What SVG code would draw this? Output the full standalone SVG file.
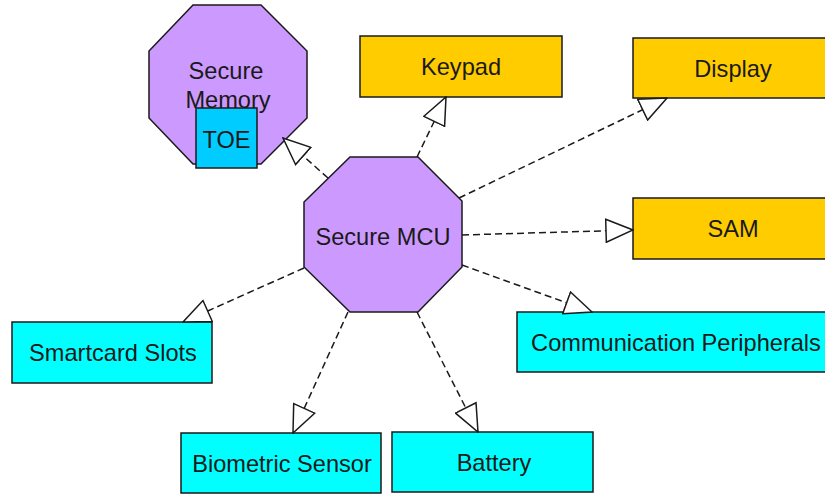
<svg xmlns="http://www.w3.org/2000/svg" width="825" height="496" viewBox="0 0 825 496">
<style>
  .oct { fill: #CC99FF; stroke: #1a1a1a; stroke-width: 1.5; }
  .yel { fill: #FFCC00; stroke: #1a1a1a; stroke-width: 1.5; }
  .cyan { fill: #00FFFF; stroke: #1a1a1a; stroke-width: 1.5; }
  .toe { fill: #00CCFF; stroke: #1a1a1a; stroke-width: 1.5; }
  text { font-family: "Liberation Sans", Arial, sans-serif; font-size: 23.6px; fill: #1a1a1a; text-anchor: middle; }
  .conn { fill: none; stroke: #1a1a1a; stroke-width: 1.5; stroke-dasharray: 7 4; marker-end: url(#tri); }
</style>
<defs>
  <marker id="tri" viewBox="0 0 29 25" refX="28" refY="12.5" markerWidth="29" markerHeight="25" markerUnits="userSpaceOnUse" orient="auto">
    <path d="M1,1 L28,12.5 L1,24 Z" fill="#ffffff" stroke="#1a1a1a" stroke-width="1.5"/>
  </marker>
</defs>
<rect width="825" height="496" fill="#ffffff"/>

<g id="secure-memory">
  <polygon class="oct" points="193,5 261,5 307,51 307,118 261,164 193,164 149,118 149,51"/>
  <text x="226" y="79">Secure</text>
  <text x="228" y="108">Memory</text>
</g>
<g id="toe">
  <rect class="toe" x="196" y="108" width="61" height="60"/>
  <text x="226.5" y="148">TOE</text>
</g>
<g id="secure-mcu">
  <polygon class="oct" points="350,157 418,157 462,201 462,267 418,312 350,312 304,267 304,202"/>
  <text x="383" y="245">Secure MCU</text>
</g>
<g id="keypad">
  <rect class="yel" x="360" y="36" width="202" height="61"/>
  <text x="461" y="75">Keypad</text>
</g>
<g id="display">
  <rect class="yel" x="633" y="38" width="200" height="60"/>
  <text x="733" y="76.5">Display</text>
</g>
<g id="sam">
  <rect class="yel" x="633" y="198" width="200" height="61"/>
  <text x="733" y="237">SAM</text>
</g>
<g id="communication-peripherals">
  <rect class="cyan" x="517" y="312" width="318" height="60"/>
  <text x="676" y="350.5">Communication Peripherals</text>
</g>
<g id="smartcard-slots">
  <rect class="cyan" x="12" y="322" width="200" height="61"/>
  <text x="113" y="361">Smartcard Slots</text>
</g>
<g id="biometric-sensor">
  <rect class="cyan" x="181" y="433" width="200" height="60"/>
  <text x="282" y="471.5">Biometric Sensor</text>
</g>
<g id="battery">
  <rect class="cyan" x="392" y="432" width="201" height="60"/>
  <text x="494" y="470.5">Battery</text>
</g>

<g id="connectors">
  <line class="conn" x1="328" y1="178" x2="283" y2="138"/>
  <line class="conn" x1="417" y1="157" x2="446" y2="97"/>
  <line class="conn" x1="459" y1="198" x2="667" y2="98"/>
  <line class="conn" x1="462" y1="235" x2="633" y2="230"/>
  <line class="conn" x1="462" y1="265" x2="592" y2="312"/>
  <line class="conn" x1="417" y1="312" x2="478" y2="432"/>
  <line class="conn" x1="348" y1="312" x2="293" y2="433"/>
  <line class="conn" x1="304" y1="268" x2="183" y2="322"/>
</g>
</svg>
